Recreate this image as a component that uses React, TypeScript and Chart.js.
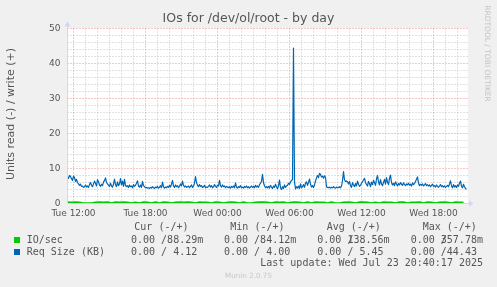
import React, { useEffect, useRef } from "react";
import { Chart, registerables } from "chart.js";
Chart.register(...registerables);

const TITLE = "IOs for /dev/ol/root - by day";
const Y_TITLE = "Units read (-) / write (+)";
const SIDE_TEXT = "RRDTOOL / TOBI OETIKER";
const WATERMARK = "Munin 2.0.75";
const LAST_UPDATE = "Last update: Wed Jul 23 20:40:17 2025";

// hours since Tue 11:30
const SPAN_HOURS = 400 / 12;
const X_TICK_HOURS = [0.5, 6.5, 12.5, 18.5, 24.5, 30.5];
const X_TICK_LABELS = ["Tue 12:00", "Tue 18:00", "Wed 00:00", "Wed 06:00", "Wed 12:00", "Wed 18:00"];
const Y_TICKS = [0, 10, 20, 30, 40, 50];

// Req Size (KB), one value per 5 minutes
const REQ_SIZE_KB = [
  7.6, 7.2, 8.0, 7.7, 7.1, 6.6, 7.8, 7.4, 6.3, 6.9, 6.0, 5.6, 5.2, 5.5, 4.9, 5.0, 4.6, 4.8, 5.3, 4.7,
  5.0, 4.6, 5.4, 6.0, 5.2, 4.8, 5.6, 6.4, 5.8, 5.0, 6.8, 6.2, 5.3, 4.9, 5.5, 5.1, 6.1, 6.6, 7.3, 6.0,
  5.6, 5.2, 4.9, 5.8, 5.0, 4.7, 5.5, 7.0, 5.4, 4.8, 6.2, 5.1, 5.6, 7.1, 5.3, 6.4, 4.9, 6.9, 5.2, 4.8,
  5.1, 4.6, 5.3, 4.8, 5.0, 4.5, 5.4, 4.9, 5.2, 5.8, 6.5, 5.0, 4.7, 5.3, 4.6, 6.3, 5.1, 4.8, 4.5, 4.6,
  4.4, 4.5, 4.3, 4.6, 4.4, 4.8, 4.5, 4.3, 4.7, 4.5, 4.9, 4.4, 4.6, 5.1, 4.5, 6.1, 4.8, 4.4, 4.7, 4.5,
  4.9, 4.6, 5.2, 4.7, 5.5, 6.6, 5.0, 4.6, 5.3, 4.8, 5.1, 4.5, 4.9, 5.6, 5.0, 6.4, 5.2, 4.7, 5.0, 4.6,
  4.8, 5.0, 4.5, 4.9, 5.3, 4.6, 5.0, 5.8, 7.7, 6.0, 5.2, 4.8, 5.4, 4.9, 5.1, 4.6, 4.8, 5.2, 4.5, 4.7,
  4.6, 4.9, 5.3, 4.7, 5.1, 4.5, 4.8, 5.4, 4.9, 4.6, 5.2, 5.0, 6.6, 5.1, 4.7, 5.3, 4.8, 5.0, 4.5, 4.9,
  4.7, 4.5, 4.8, 4.4, 4.9, 4.6, 5.0, 4.5, 5.9, 4.7, 4.4, 4.8, 4.6, 5.1, 4.5, 4.7, 4.4, 4.9, 4.6, 5.0,
  4.5, 4.8, 4.4, 4.7, 5.0, 4.6, 4.9, 4.5, 5.2, 4.7, 5.0, 4.6, 5.4, 5.8, 6.3, 8.3, 6.0, 5.0, 4.6, 4.8,
  4.5, 4.9, 4.4, 5.2, 4.7, 4.3, 5.0, 4.6, 5.5, 4.8, 4.2, 5.1, 6.7, 4.5, 4.0, 4.8, 4.3, 5.3, 4.6, 5.0,
  5.2, 5.8, 5.5, 6.1, 6.6, 6.8, 44.43, 6.2, 4.2, 4.8, 4.4, 5.0, 4.3, 5.6, 4.5, 4.8, 5.4, 4.6, 5.8, 6.2,
  5.2, 6.0, 7.0, 5.5, 4.7, 5.1, 4.6, 5.3, 6.4, 7.3, 8.0, 7.4, 8.6, 8.3, 7.6, 7.8, 7.2, 7.9, 7.5, 4.8,
  4.6, 4.5, 4.7, 4.4, 4.6, 4.5, 4.8, 4.5, 4.4, 4.7, 4.5, 4.6, 4.8, 4.5, 5.0, 6.5, 9.1, 6.8, 6.3, 6.4,
  6.2, 5.6, 6.3, 5.1, 4.6, 6.0, 5.3, 4.8, 5.7, 5.0, 6.4, 5.5, 4.9, 5.2, 5.8, 6.2, 6.7, 7.2, 6.0, 5.4,
  5.0, 6.3, 5.7, 4.8, 6.1, 5.4, 6.6, 5.9, 5.2, 7.0, 8.0, 6.2, 5.3, 6.8, 5.6, 5.1, 6.0, 6.9, 5.5, 7.4,
  6.1, 5.4, 7.2, 8.1, 6.0, 5.3, 5.8, 5.1, 6.2, 5.6, 5.0, 5.7, 5.3, 6.0, 5.5, 5.2, 5.9, 5.4, 5.1, 5.6,
  5.3, 5.8, 5.2, 5.5, 5.0, 5.9, 5.4, 5.7, 6.3, 6.9, 7.6, 5.8, 5.1, 5.5, 5.2, 5.6, 5.0, 5.3, 5.7, 5.1,
  5.4, 5.0, 5.3, 4.8, 5.2, 5.5, 4.9, 5.1, 4.7, 5.3, 4.9, 4.6, 5.0, 5.4, 4.8, 5.1, 4.7, 5.0, 4.6, 4.9,
  5.2, 4.8, 5.6, 6.5, 5.0, 4.5, 5.4, 4.7, 5.1, 4.6, 5.3, 4.9, 5.8, 6.4, 4.9, 4.5, 5.5, 4.8, 4.3, 4.1,
];

// IO/sec, one value per 20 minutes
const IO_PER_SEC = [
  0.34, 0.32, 0.35, 0.30, 0.06, 0.05, 0.08, 0.32, 0.35, 0.31,
  0.33, 0.07, 0.33, 0.30, 0.35, 0.32, 0.06, 0.31, 0.05, 0.34,
  0.32, 0.07, 0.33, 0.06, 0.35, 0.30, 0.05, 0.32, 0.36, 0.31,
  0.33, 0.30, 0.06, 0.34, 0.32, 0.30, 0.07, 0.33, 0.31, 0.05,
  0.32, 0.35, 0.30, 0.06, 0.34, 0.05, 0.07, 0.31, 0.33, 0.36,
  0.32, 0.06, 0.33, 0.30, 0.34, 0.05, 0.32, 0.35, 0.31, 0.07,
  0.33, 0.06, 0.34, 0.32, 0.30, 0.05, 0.33, 0.06, 0.07, 0.32,
  0.35, 0.31, 0.05, 0.33, 0.36, 0.32, 0.06, 0.31, 0.07, 0.34,
  0.32, 0.30, 0.05, 0.33, 0.35, 0.06, 0.32, 0.31, 0.34, 0.07,
  0.33, 0.30, 0.05, 0.32, 0.35, 0.31, 0.06, 0.33, 0.32, 0.30,
];

const SERIES_NAMES = ["IO/sec", "Req Size (KB)"];
const SERIES_COLORS = ["#00cc00", "#0066b3"];
const STAT_HEADERS = ["Cur (-/+)", "Min (-/+)", "Avg (-/+)", "Max (-/+)"];
const IO_STATS = ["0.00 /88.29m", "0.00 /84.12m", "0.00 /138.56m", "0.00 /357.78m"];
const REQ_STATS = ["0.00 / 4.12", "0.00 / 4.00", "0.00 / 5.45", "0.00 /44.43"];

const SANS = '"DejaVu Sans", sans-serif';
const MONO = '"DejaVu Sans Mono", monospace';
const FONT_COLOR = "#555555";
const AXIS_COLOR = "#cfd6f8";

const muninPlugin = {
  id: "munin",
  beforeDraw(chart: any) {
    const { ctx, chartArea: a, scales } = chart;
    const xs = scales.x;
    const ys = scales.y;
    ctx.save();
    ctx.fillStyle = "#f0f0f0";
    ctx.fillRect(0, 0, chart.width, chart.height);
    ctx.fillStyle = "#ffffff";
    ctx.fillRect(a.left - 0.5, a.top - 0.5, a.right - a.left + 1, a.bottom - a.top + 1);
    ctx.lineWidth = 1;
    ctx.setLineDash([1, 2]);
    const drawV = (h: number, color: string) => {
      const px = xs.getPixelForValue(h);
      ctx.strokeStyle = color;
      ctx.beginPath();
      ctx.moveTo(px, a.bottom);
      ctx.lineTo(px, a.top);
      ctx.stroke();
    };
    const drawH = (v: number, color: string) => {
      const py = ys.getPixelForValue(v);
      ctx.strokeStyle = color;
      ctx.beginPath();
      ctx.moveTo(a.left, py);
      ctx.lineTo(a.right, py);
      ctx.stroke();
    };
    const minor = "rgba(140,140,140,0.5)";
    const major = "rgba(225,70,70,0.6)";
    for (let h = 0.5; h <= SPAN_HOURS; h += 1) {
      if (!X_TICK_HOURS.includes(h)) drawV(h, minor);
    }
    for (let v = 2; v <= 50; v += 2) {
      if (!Y_TICKS.includes(v)) drawH(v, minor);
    }
    X_TICK_HOURS.forEach((h) => drawV(h, major));
    Y_TICKS.forEach((v) => { if (v > 0) drawH(v, major); });
    ctx.restore();
  },
  afterDatasetsDraw(chart: any) {
    const { ctx, chartArea: a, scales } = chart;
    const xs = scales.x;
    const ys = scales.y;
    ctx.save();
    // axes
    ctx.strokeStyle = AXIS_COLOR;
    ctx.fillStyle = AXIS_COLOR;
    ctx.lineWidth = 1;
    ctx.setLineDash([]);
    ctx.beginPath();
    ctx.moveTo(a.left, a.bottom);
    ctx.lineTo(a.right + 2, a.bottom);
    ctx.moveTo(a.left, a.bottom);
    ctx.lineTo(a.left, a.top - 2);
    ctx.stroke();
    ctx.beginPath();
    ctx.moveTo(a.right + 6, a.bottom);
    ctx.lineTo(a.right + 1.5, a.bottom - 3);
    ctx.lineTo(a.right + 1.5, a.bottom + 3);
    ctx.closePath();
    ctx.fill();
    ctx.beginPath();
    ctx.moveTo(a.left, a.top - 7);
    ctx.lineTo(a.left - 3, a.top - 2);
    ctx.lineTo(a.left + 3, a.top - 2);
    ctx.closePath();
    ctx.fill();

    // title
    ctx.fillStyle = FONT_COLOR;
    ctx.textBaseline = "middle";
    ctx.textAlign = "center";
    ctx.font = `12.5px ${SANS}`;
    ctx.fillText(TITLE, 248.5, 19);

    // tick labels
    ctx.font = `9px ${SANS}`;
    ctx.textAlign = "right";
    Y_TICKS.forEach((v) => ctx.fillText(String(v), 60.5, ys.getPixelForValue(v)));
    ctx.textAlign = "center";
    X_TICK_HOURS.forEach((h, i) => ctx.fillText(X_TICK_LABELS[i], xs.getPixelForValue(h), 213.5));

    // y title
    ctx.save();
    ctx.font = `11px ${SANS}`;
    ctx.translate(11.5, 114);
    ctx.rotate(-Math.PI / 2);
    ctx.fillText(Y_TITLE, 0, 0);
    ctx.restore();

    // side text
    ctx.save();
    ctx.fillStyle = "#c4c4c4";
    ctx.font = `7.5px ${SANS}`;
    ctx.translate(486.5, 53.5);
    ctx.rotate(Math.PI / 2);
    ctx.fillText(SIDE_TEXT, 0, 0);
    ctx.restore();

    // legend
    ctx.font = `10px ${MONO}`;
    ctx.textAlign = "left";
    const cw = ctx.measureText("0").width;
    const headX = [134.3, 230.3, 326.7, 422.7];
    const colX = [131, 224, 317.3, 410.7];
    STAT_HEADERS.forEach((t, i) => ctx.fillText(t, headX[i], 227.5));
    const drawStat = (s: string, x: number, y: number) => {
      if (s.length > 12) {
        const k = s.indexOf("/");
        ctx.fillText(s.slice(0, k) + s.slice(k + 1), x, y);
        ctx.fillText("/", x + k * cw, y);
      } else {
        ctx.fillText(s, x, y);
      }
    };
    const rows = [IO_STATS, REQ_STATS];
    const rowY = [240, 252];
    SERIES_NAMES.forEach((name, r) => {
      ctx.fillStyle = SERIES_COLORS[r];
      ctx.fillRect(14, rowY[r] - 3, 6, 6);
      ctx.fillStyle = FONT_COLOR;
      ctx.fillText(name, 26.7, rowY[r]);
      rows[r].forEach((s, i) => drawStat(s, colX[i], rowY[r]));
    });
    ctx.textAlign = "right";
    ctx.fillText(LAST_UPDATE, 483, 263.5);

    ctx.textAlign = "center";
    ctx.fillStyle = "#c8c8c8";
    ctx.font = `7.2px ${SANS}`;
    ctx.fillText(WATERMARK, 248.5, 276);
    ctx.restore();
  },
};

export default function App() {
  const ref = useRef<HTMLCanvasElement | null>(null);
  useEffect(() => {
    document.body.style.margin = "0";
    document.body.style.background = "#f0f0f0";
    const canvas = ref.current;
    if (!canvas) return;
    const chart = new Chart(canvas, {
      type: "line",
      data: {
        datasets: [
          {
            label: SERIES_NAMES[0],
            data: IO_PER_SEC.map((v, i) => ({ x: i / 3, y: v })),
            borderColor: SERIES_COLORS[0],
            borderWidth: 2,
            pointRadius: 0,
            tension: 0,
            order: 2,
          },
          {
            label: SERIES_NAMES[1],
            data: REQ_SIZE_KB.map((v, i) => ({ x: i / 12, y: v })),
            borderColor: SERIES_COLORS[1],
            borderWidth: 1.2,
            pointRadius: 0,
            tension: 0,
            order: 1,
          },
        ],
      },
      options: {
        responsive: false,
        animation: false,
        devicePixelRatio: 1,
        layout: { padding: { left: 67.5, top: 28.5, right: 29.5, bottom: 83.5 } },
        scales: {
          x: { type: "linear", min: 0, max: SPAN_HOURS, display: false },
          y: { type: "linear", min: 0, max: 50, display: false },
        },
        plugins: { legend: { display: false }, tooltip: { enabled: false }, title: { display: false } },
        elements: { line: { borderJoinStyle: "round" } },
      },
      plugins: [muninPlugin],
    });
    return () => chart.destroy();
  }, []);
  return <canvas ref={ref} width={497} height={287} style={{ display: "block" }} />;
}
